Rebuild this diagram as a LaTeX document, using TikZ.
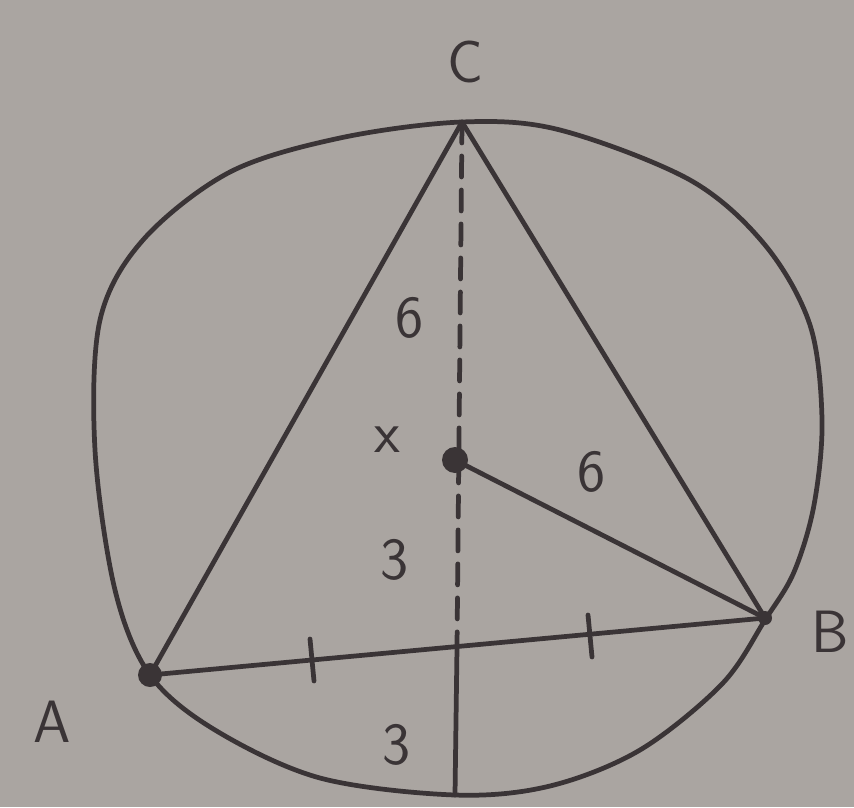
\documentclass[tikz,border=0pt]{standalone}
\usepackage{tikz}
\definecolor{paper}{RGB}{170,165,161}
\definecolor{ink}{RGB}{58,52,54}
\tikzset{
  pen/.style={draw=ink, line width=2.7pt, line cap=round, line join=round},
  lbl/.style={text=ink, font=\sffamily\fontsize{34}{34}\selectfont},
  dot/.style={fill=ink}
}
\begin{document}
\begin{tikzpicture}[x=0.02cm, y=-0.02cm]
\fill[paper] (0,0) rectangle (854,807);
\useasboundingbox (0,0) rectangle (854,807);

\coordinate (C) at (462,122);
\coordinate (A) at (150,675);
\coordinate (B) at (765,618);
\coordinate (O) at (455,460);
\coordinate (M) at (457,647);
\coordinate (D) at (455,795);

% circle, drawn freehand
\draw[pen] plot[smooth cycle, tension=0.55] coordinates {
  (462,122) (560,130) (690,180) (765,245) (810,325) (822,420)
  (814,505) (794,572) (765,620) (722,684) (640,750) (550,786)
  (455,795) (320,778) (215,730) (150,675) (115,590) (95,450)
  (100,320) (143,240) (230,172) (340,138)};

% triangle and radius
\draw[pen] (A) -- (B) -- (C) -- cycle;
\draw[pen] (O) -- (B);
\draw[pen, dash pattern=on 0.42cm off 0.26cm] (C) -- (M);
\draw[pen] (M) -- (D);

% equal marks
\draw[pen] (312,660) ++(-2,-21) -- ++(4,42);
\draw[pen] (590,636) ++(-2,-21) -- ++(4,42);

\fill[dot] (A) circle (12);
\fill[dot] (O) circle (13);
\fill[dot] (B) circle (7);

\node[lbl] (lC) at (465,62) {C};
\node[lbl] (lA) at (52,722) {A};
\node[lbl] (lB) at (830,632) {B};
\node[lbl] (l6a) at (410,318) {6};
\node[lbl] (lx) at (387,440) {x};
\node[lbl] (l6b) at (592,472) {6};
\node[lbl] (l3a) at (395,560) {3};
\node[lbl] (l3b) at (397,745) {3};
\end{tikzpicture}
\end{document}
